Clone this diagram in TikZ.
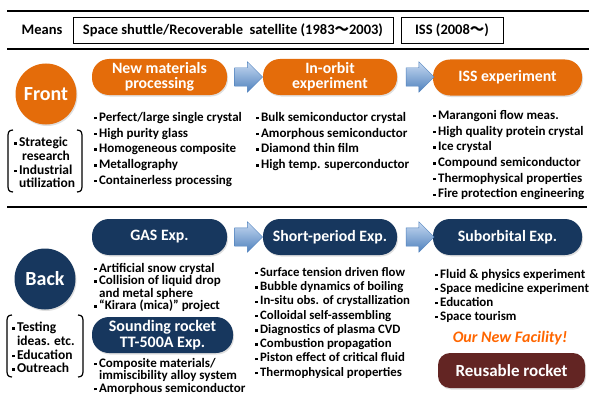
\documentclass[tikz,border=0pt]{standalone}
\usepackage{fontspec}
\setmainfont{Carlito}
\newfontfamily\jfont{Noto Sans CJK JP}
\usetikzlibrary{positioning, shapes.arrows, calc, shadows}
\definecolor{frontorange}{HTML}{E46C0A}
\definecolor{backnavy}{HTML}{17375E}
\definecolor{rocketred}{HTML}{632523}
\definecolor{arrowblue}{HTML}{4F81BD}
\definecolor{arrowlight}{HTML}{C6D9F1}
\definecolor{facility}{HTML}{FF6600}
\newcommand{\sq}{\raisebox{0.3ex}{\rule{2.4pt}{2.4pt}}\hspace{2.5pt}}
\newcommand{\cont}{\hphantom{\sq}}
\newcommand{\tld}{{\jfont ～}}

\begin{document}
\begin{tikzpicture}[x=1pt, y=-1pt,
    every node/.style={font=\bfseries},
    pill/.style={rounded corners=17pt, minimum width=135pt, minimum height=36pt, text=white, align=center, inner sep=1pt, font=\fontsize{15.8}{15}\selectfont\bfseries, drop shadow={opacity=0.25, shadow xshift=1pt, shadow yshift=-1.5pt}},
    frontbox/.style={pill, fill=frontorange},
    backbox/.style={pill, fill=backnavy},
    side/.style={circle, minimum size=61pt, inner sep=0pt, text=white, font=\fontsize{20}{22}\selectfont\bfseries, drop shadow={opacity=0.25, shadow xshift=1pt, shadow yshift=-1.5pt}},
    blockarrow/.style={single arrow, draw=arrowblue, top color=arrowlight, bottom color=arrowblue, minimum height=28pt, inner sep=9pt, single arrow head extend=6pt},
    items/.style={anchor=north west, align=left, inner sep=0pt, font=\fontsize{13}{15.7}\selectfont\bfseries},
    note/.style={anchor=north west, align=left, inner sep=0pt, font=\fontsize{13.5}{13.7}\selectfont\bfseries},
    means/.style={draw, thin, minimum height=26pt, inner sep=2pt, font=\fontsize{14.5}{15}\selectfont\bfseries}
  ]
  \useasboundingbox (0,0) rectangle (589,396);

  % means row
  \draw[line width=1.6pt] (7,11) -- (589,11);
  \draw[line width=1.6pt] (7,49) -- (589,49);
  \node[font=\fontsize{14.5}{15}\selectfont\bfseries] (mns) at (42,30) {Means};
  \node[means, minimum width=320pt] (shuttle) at (233,30) {Space shuttle/Recoverable\ \ satellite (1983\tld 2003)};
  \node[means, minimum width=102pt] (issm) at (452,30) {ISS (2008\tld)};

  % front
  \node[side, fill=frontorange] (front) at (46,94) {Front};
  \node[frontbox] (nmp) at (159.5,77) {New materials\\processing};
  \node[frontbox, minimum width=134pt] (orb) at (330,77) {In-orbit\\experiment};
  \node[frontbox, minimum width=149pt] (iss) at (507.5,77.5) {ISS experiment};
  \node[blockarrow] (ar1) at (244,77) {};
  \node[blockarrow] (ar2) at (415.5,77) {};

  \node[items] (nmpl) at (94,112) {\sq Perfect/large single crystal\\\sq High purity glass\\\sq Homogeneous composite\\\sq Metallography\\\sq Containerless processing};
  \node[items] (orbl) at (256,112) {\sq Bulk semiconductor crystal\\\sq Amorphous semiconductor\\\sq Diamond thin film\\\sq High temp. superconductor};
  \node[items] (issl) at (433,110) {\sq Marangoni flow meas.\\\sq High quality protein crystal\\\sq Ice crystal\\\sq Compound semiconductor\\\sq Thermophysical properties\\\sq Fire protection engineering};

  \node[note] (fnote) at (14,137) {\sq Strategic\\\cont\ research\\\sq Industrial\\\cont utilization};
  \draw[line width=1.2pt] (13,130) .. controls (8,130) and (8,133) .. (8,138) -- (8,184) .. controls (8,189) and (8,192) .. (13,192);
  \draw[line width=1.2pt] (77,130) .. controls (82,130) and (82,133) .. (82,138) -- (82,184) .. controls (82,189) and (82,192) .. (77,192);

  \draw[line width=1.6pt] (7,207) -- (587,207);

  % back
  \node[side, fill=backnavy] (back) at (45,279) {Back};
  \node[backbox] (gas) at (159.5,237) {GAS Exp.};
  \node[backbox, minimum width=134pt] (spe) at (330,237) {Short-period Exp.};
  \node[backbox, minimum width=149pt] (sub) at (507.5,237) {Suborbital Exp.};
  \node[blockarrow] (ar3) at (244,237) {};
  \node[blockarrow] (ar4) at (415.5,237) {};
  \node[backbox, minimum width=141pt, font=\fontsize{16}{16.5}\selectfont\bfseries] (tt) at (162.5,335) {Sounding rocket\\TT-500A Exp.};

  \node[items, font=\fontsize{13}{12.4}\selectfont\bfseries] (gasl) at (94,263) {\sq Artificial snow crystal\\\sq Collision of liquid drop\\\cont and metal sphere\\\sq “Kirara (mica)” project};
  \node[items, font=\fontsize{13}{12.5}\selectfont\bfseries] (ttl) at (94,358) {\sq Composite materials/\\\cont immiscibility alloy system\\\sq Amorphous semiconductor};
  \node[items, font=\fontsize{12.8}{14.3}\selectfont\bfseries] (spel) at (255,267) {\sq Surface tension driven flow\\\sq Bubble dynamics of boiling\\\sq In-situ obs. of crystallization\\\sq Colloidal self-assembling\\\sq Diagnostics of plasma CVD\\\sq Combustion propagation\\\sq Piston effect of critical fluid\\\sq Thermophysical properties};
  \node[items, font=\fontsize{13}{14}\selectfont\bfseries] (subl) at (435,269) {\sq Fluid \& physics experiment\\\sq Space medicine experiment\\\sq Education\\\sq Space tourism};

  \node[text=facility, font=\fontsize{16}{17}\selectfont\bfseries\itshape] (fac) at (510,338) {Our New Facility!};
  \node[pill, fill=rocketred, rounded corners=12pt, minimum width=147pt, minimum height=35pt, font=\fontsize{17}{18}\selectfont\bfseries] (rr) at (511.5,370.5) {Reusable rocket};

  \node[note] (bnote) at (12,322) {\sq Testing\\\cont ideas. etc.\\\sq Education\\\sq Outreach};
  \draw[line width=1.2pt] (12,315) .. controls (7,315) and (7,318) .. (7,323) -- (7,369) .. controls (7,374) and (7,377) .. (12,377);
  \draw[line width=1.2pt] (78,315) .. controls (83,315) and (83,318) .. (83,323) -- (83,369) .. controls (83,374) and (83,377) .. (78,377);
\end{tikzpicture}
\end{document}
